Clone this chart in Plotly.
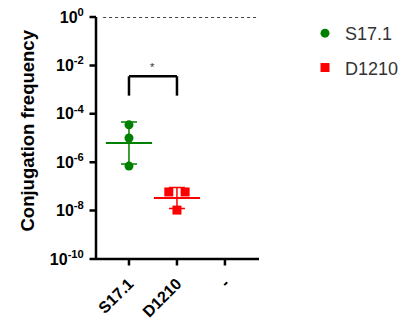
import numpy as np
import plotly.graph_objects as go

categories = ["S17.1", "D1210", "-"]
s17_values = [3.5e-5, 1.0e-5, 6.9e-7]
d1210_values = [5.9e-8, 5.9e-8, 1.05e-8]
s17_jitter = [0.0, 0.0, 0.0]
d1210_jitter = [-0.17, 0.17, 0.0]
ytick_vals = [1, 1e-2, 1e-4, 1e-6, 1e-8, 1e-10]
ytick_text = ["<b>10<sup>0</sup></b>", "<b>10<sup>-2</sup></b>", "<b>10<sup>-4</sup></b>",
              "<b>10<sup>-6</sup></b>", "<b>10<sup>-8</sup></b>", "<b>10<sup>-10</sup></b>"]

FONT = "Arial, Liberation Sans, sans-serif"
GREEN = "#008000"
RED = "#ff0000"
XR = [-0.6875, 2.71]
YR = [-10, 0]
W, H = 403, 315
ML, MR, MT, MB = 88, 152, 9, 64
TICK = 8

def stats(vals):
    lv = np.log10(vals)
    m = lv.mean()
    sd = lv.std(ddof=1)
    mean = 10 ** m
    return mean, 10 ** (m + sd) - mean, mean - 10 ** (m - sd)

fig = go.Figure()

for idx, (name, vals, jit, color, sym) in enumerate([
        ("S17.1", s17_values, s17_jitter, GREEN, "circle"),
        ("D1210", d1210_values, d1210_jitter, RED, "square")]):
    mean, up, down = stats(vals)
    fig.add_trace(go.Scatter(
        x=[idx], y=[mean], mode="markers", showlegend=False,
        marker=dict(symbol="line-ew", size=33, line=dict(color=color, width=2), color=color),
        error_y=dict(type="data", symmetric=False, array=[up], arrayminus=[down],
                     color=color, thickness=1.5, width=8),
        hoverinfo="skip"))
    fig.add_trace(go.Scatter(
        x=[idx + j for j in jit], y=vals, mode="markers", name=name,
        legendgroup=name,
        marker=dict(symbol=sym, size=9, color=color)))

AX = dict(color="black", width=2.5)
# axis lines (drawn explicitly)
fig.add_shape(type="line", xref="paper", yref="paper", x0=0, x1=1, y0=0, y1=0, line=AX)
fig.add_shape(type="line", xref="paper", yref="paper", x0=0, x1=0, y0=0, y1=1, line=AX)
# tick marks as arrow-only annotations (not clipped to the plot area)
for v in ytick_vals:
    fig.add_annotation(xref="paper", yref="y", x=0, y=np.log10(v), text="", showarrow=True,
                       ax=-TICK, ay=0, axref="pixel", ayref="pixel", arrowhead=0,
                       arrowwidth=2.5, arrowcolor="black", standoff=0, startstandoff=0)
for i in range(len(categories)):
    fig.add_annotation(xref="x", yref="paper", x=i, y=0, text="", showarrow=True,
                       ax=0, ay=TICK, axref="pixel", ayref="pixel", arrowhead=0,
                       arrowwidth=2.5, arrowcolor="black", standoff=0, startstandoff=0)
# dotted reference line at 10^0
fig.add_shape(type="line", x0=-0.54, x1=2.69, y0=1, y1=1, xref="x", yref="y",
              line=dict(color="#444", width=2, dash="dot"))
# significance bracket
br_low, br_high = 10 ** -3.25, 10 ** -2.45
for (xa, ya, xb, yb) in [(0, br_low, 0, br_high), (0, br_high, 1, br_high), (1, br_high, 1, br_low)]:
    fig.add_shape(type="line", x0=xa, y0=ya, x1=xb, y1=yb, xref="x", yref="y",
                  line=dict(color="black", width=2.5))
fig.add_annotation(x=0.5, y=-2.05, xref="x", yref="y", text="*", showarrow=False,
                   font=dict(family=FONT, size=11, color="#333"))
# y-axis title
fig.add_annotation(x=-0.42, y=0.529, xref="paper", yref="paper", text="<b>Conjugation frequency</b>",
                   textangle=-90, showarrow=False, xanchor="center", yanchor="middle",
                   font=dict(family=FONT, size=18.5, color="black"))

fig.update_layout(
    width=W, height=H,
    margin=dict(l=ML, r=MR, t=MT, b=MB, autoexpand=False),
    paper_bgcolor="white", plot_bgcolor="white",
    font=dict(family=FONT, color="black"),
    legend=dict(xref="container", yref="container", x=0.737, y=0.978,
                xanchor="left", yanchor="top", font=dict(size=18, color="#333"),
                tracegroupgap=8, bgcolor="rgba(0,0,0,0)"),
    xaxis=dict(range=XR, tickmode="array", tickvals=[0, 1, 2],
               ticktext=["<b>%s</b>" % c for c in categories], tickangle=-45,
               showline=False, ticks="outside", ticklen=TICK, tickcolor="rgba(0,0,0,0)",
               showgrid=False, zeroline=False, ticklabeloverflow="allow",
               automargin=False, tickfont=dict(size=16, family=FONT)),
    yaxis=dict(type="log", range=YR, tickmode="array", tickvals=ytick_vals,
               ticktext=ytick_text, showline=False, ticks="outside", ticklen=TICK,
               tickcolor="rgba(0,0,0,0)", ticklabeloverflow="allow",
               showgrid=False, zeroline=False, automargin=False,
               tickfont=dict(size=16, family=FONT)),
)

fig.write_html("out.html")
